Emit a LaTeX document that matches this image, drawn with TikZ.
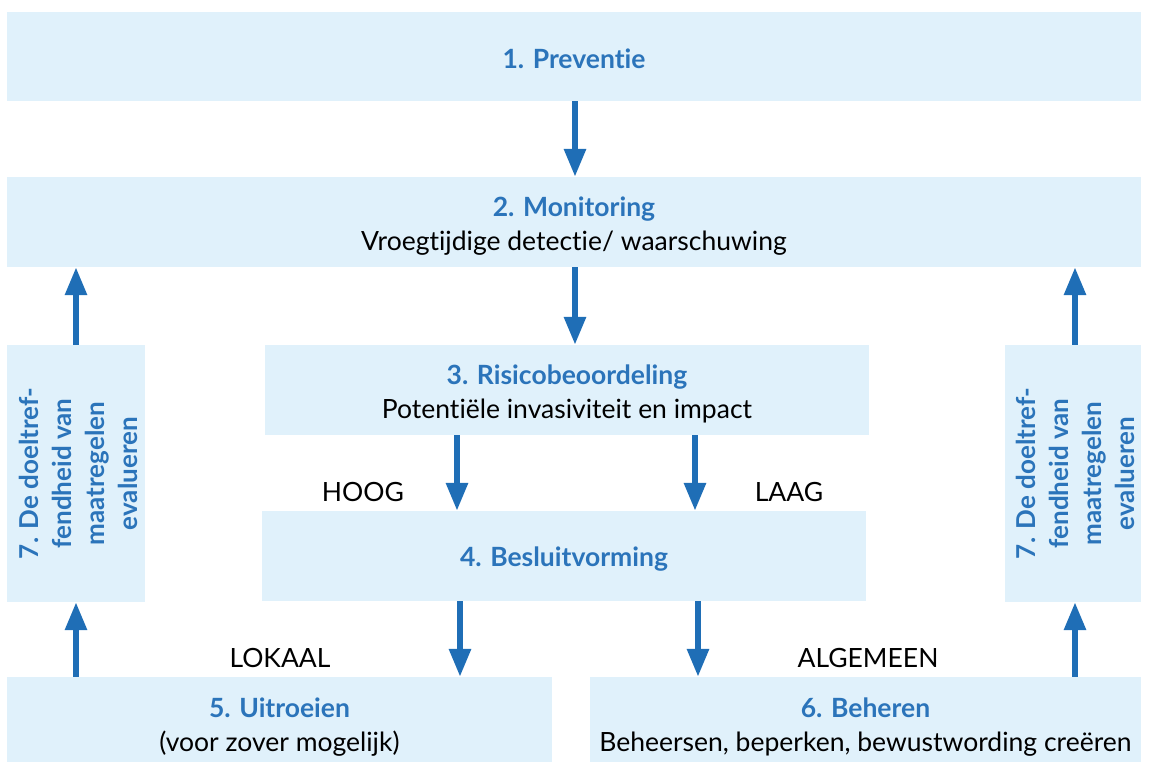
\documentclass[tikz,border=0pt]{standalone}
\usepackage{fontspec}
\setmainfont{Lato}[Ligatures=NoCommon]
\usetikzlibrary{arrows.meta}
\definecolor{boxfill}{HTML}{E0F1FB}
\definecolor{titleblue}{HTML}{2B74BA}
\definecolor{arrowblue}{HTML}{1F6EB6}
\newcommand\ttl[1]{{\bfseries\color{titleblue}#1}}
\begin{document}
\begin{tikzpicture}[x=1pt,y=-1pt,
  box/.style 2 args={fill=boxfill,draw=none,inner sep=0pt,minimum width=#1,minimum height=#2},
  txt/.style={align=center,inner sep=0pt,font=\fontsize{26.5}{34}\selectfont},
  arr/.style={draw=arrowblue,line width=6pt,-{Triangle[length=28pt,width=21pt]}},
  lbl/.style={font=\fontsize{26.5}{30}\selectfont,inner sep=0pt},
  vtext/.style={rotate=90,align=center,inner sep=0pt,font=\fontsize{26}{33}\selectfont\bfseries,text=titleblue}]
\useasboundingbox (0,0) rectangle (1149,762);
\clip (0,0) rectangle (1149,762);
\node[box={1134pt}{89pt}] (b1) at (574,56.5) {};
\node[box={1134pt}{90pt}] (b2) at (574,222) {};
\node[box={604pt}{90pt}] (b3) at (567,390) {};
\node[box={604pt}{90pt}] (b4) at (564,556) {};
\node[box={545pt}{90pt}] (b5) at (279.5,722) {};
\node[box={551pt}{90pt}] (b6) at (865.5,722) {};
\node[box={138pt}{257pt}] (b7l) at (76,473.5) {};
\node[box={136pt}{257pt}] (b7r) at (1073,473.5) {};
\node[txt] (t1) at ([yshift=-2pt]b1.center) {\ttl{1. Preventie}};
\node[txt] (t2) at ([yshift=-4pt]b2.center) {\ttl{2. Monitoring}\\Vroegtijdige detectie/ waarschuwing};
\node[txt] (t3) at ([yshift=-4pt]b3.center) {\ttl{3. Risicobeoordeling}\\Potentiële invasiviteit en impact};
\node[txt] (t4) at ([yshift=-3pt]b4.center) {\ttl{4. Besluitvorming}};
\node[txt] (t5) at ([yshift=-5pt]b5.center) {\ttl{5. Uitroeien}\\(voor zover mogelijk)};
\node[txt] (t6) at ([yshift=-5pt]b6.center) {\ttl{6. Beheren}\\Beheersen, beperken, bewustwording creëren};
\node[vtext] (t7l) at ([xshift=2pt]b7l.center) {7. De doeltref-\\fendheid van\\maatregelen\\evalueren};
\node[vtext] (t7r) at ([xshift=2pt]b7r.center) {7. De doeltref-\\fendheid van\\maatregelen\\evalueren};
\coordinate (xa) at (575,0);
\coordinate (xh) at (457,0);
\coordinate (xl) at (695,0);
\coordinate (xk) at (460,0);
\coordinate (xg) at (698,0);
\coordinate (xL) at (76,0);
\coordinate (xR) at (1075,0);
\draw[arr] (b1.south -| xa) -- (b2.north -| xa);
\draw[arr] (b2.south -| xa) -- (b3.north -| xa);
\draw[arr] (b3.south -| xh) -- (b4.north -| xh);
\draw[arr] (b3.south -| xl) -- (b4.north -| xl);
\draw[arr] (b4.south -| xk) -- (b5.north -| xk);
\draw[arr] (b4.south -| xg) -- (b6.north -| xg);
\draw[arr] (b5.north -| xL) -- (b7l.south -| xL);
\draw[arr] (b7l.north -| xL) -- (b2.south -| xL);
\draw[arr] (b6.north -| xR) -- (b7r.south -| xR);
\draw[arr] (b7r.north -| xR) -- (b2.south -| xR);
\node[lbl] (hoog) at (363,492) {HOOG};
\node[lbl] (laag) at (789,492) {LAAG};
\node[lbl] (lokaal) at (280,658) {LOKAAL};
\node[lbl] (alg) at (868,658) {ALGEMEEN};
\end{tikzpicture}
\end{document}
